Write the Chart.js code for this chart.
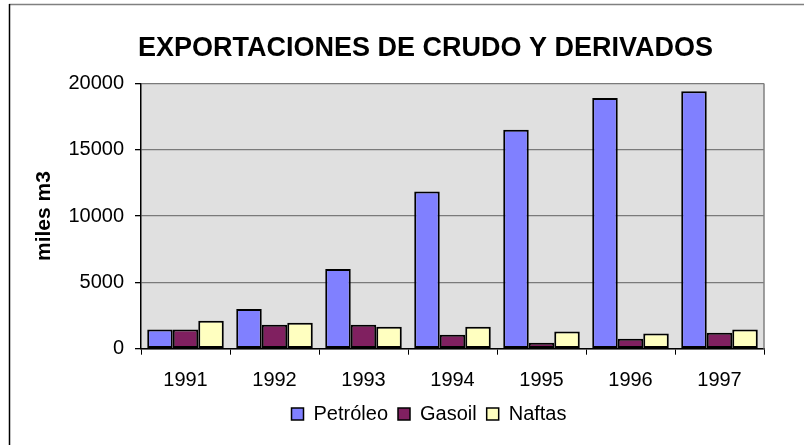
<!DOCTYPE html>
<html>
<head>
<meta charset="utf-8">
<script src="https://cdn.jsdelivr.net/npm/chart.js@4.4.0/dist/chart.umd.min.js"></script>
<style>
  html, body { margin: 0; padding: 0; background: #ffffff; }
  canvas { display: block; }
</style>
</head>
<body>
<canvas id="c" width="804" height="445"></canvas>
<script>
const titleText = 'EXPORTACIONES DE CRUDO Y DERIVADOS';
const yAxisTitle = 'miles m3';
const years = ['1991', '1992', '1993', '1994', '1995', '1996', '1997'];
const seriesNames = ['Petróleo', 'Gasoil', 'Naftas'];
const petroleo = [1450, 3000, 6000, 11850, 16500, 18900, 19400];
const gasoil = [1450, 1800, 1800, 1050, 450, 750, 1200];
const naftas = [2100, 1950, 1650, 1650, 1300, 1150, 1450];
const yTicks = [0, 5000, 10000, 15000, 20000];

const FONT = "'Liberation Sans', Arial, Helvetica, sans-serif";

const framePlugin = {
  id: 'frame',
  afterLayout(chart) {
    if (chart.titleBlock) { chart.titleBlock.left += 43.5; chart.titleBlock.right += 43.5; }
    if (chart.legend) { chart.legend.left += 47; chart.legend.right += 47; }
  },
  beforeDraw(chart) {
    const ctx = chart.ctx;
    const a = chart.chartArea;
    ctx.save();
    ctx.fillStyle = '#ffffff';
    ctx.fillRect(0, 0, chart.width, chart.height);
    ctx.strokeStyle = '#808080';
    ctx.lineWidth = 1.5;
    ctx.beginPath();
    ctx.moveTo(9, 4.5);
    ctx.lineTo(chart.width, 4.5);
    ctx.stroke();
    ctx.strokeStyle = '#000000';
    ctx.lineWidth = 1.5;
    ctx.beginPath();
    ctx.moveTo(9.5, 4);
    ctx.lineTo(9.5, chart.height);
    ctx.stroke();
    ctx.fillStyle = '#e0e0e0';
    ctx.fillRect(a.left, a.top, a.right - a.left, a.bottom - a.top);
    ctx.restore();
  },
  beforeDatasetsDraw(chart) {
    const ctx = chart.ctx;
    const a = chart.chartArea;
    ctx.save();
    ctx.strokeStyle = '#808080';
    ctx.lineWidth = 1.5;
    ctx.beginPath();
    ctx.moveTo(a.right, a.top);
    ctx.lineTo(a.right, a.bottom);
    ctx.stroke();
    ctx.restore();
  }
};

const barStyle = { borderColor: '#000000', borderWidth: 2, borderSkipped: false };

new Chart(document.getElementById('c'), {
  type: 'bar',
  data: {
    labels: years,
    datasets: [
      Object.assign({ label: seriesNames[0], data: petroleo, backgroundColor: '#8080ff' }, barStyle),
      Object.assign({ label: seriesNames[1], data: gasoil, backgroundColor: '#802060' }, barStyle),
      Object.assign({ label: seriesNames[2], data: naftas, backgroundColor: '#ffffc0' }, barStyle)
    ]
  },
  options: {
    responsive: false,
    animation: false,
    devicePixelRatio: 1,
    layout: { padding: { left: 0, right: 40, top: 0, bottom: 11 } },
    datasets: { bar: { categoryPercentage: 0.86, barPercentage: 1.0 } },
    plugins: {
      title: {
        display: true,
        text: titleText,
        color: '#000000',
        font: { family: FONT, size: 27, weight: 'bold', lineHeight: 1.2 },
        padding: { top: 31.9, bottom: 19.1 }
      },
      legend: {
        display: true,
        position: 'bottom',
        labels: {
          color: '#000000',
          font: { family: FONT, size: 20 },
          boxWidth: 12,
          boxHeight: 12,
          padding: 10,
          generateLabels(chart) {
            return chart.data.datasets.map((ds, i) => ({
              text: ds.label,
              fillStyle: ds.backgroundColor,
              strokeStyle: '#000000',
              lineWidth: 1.5,
              fontColor: '#000000',
              hidden: false,
              datasetIndex: i
            }));
          }
        }
      },
      tooltip: { enabled: false }
    },
    scales: {
      x: {
        afterFit(scale) { scale.height = 45.3; },
        grid: { display: true, drawOnChartArea: false, drawTicks: true, tickLength: 6, tickColor: '#000000', offset: true },
        border: { display: true, color: '#000000', width: 1.5 },
        ticks: { color: '#000000', font: { family: FONT, size: 20 }, padding: 14, maxRotation: 0 }
      },
      y: {
        min: 0,
        max: 20000,
        afterFit(scale) { scale.width = 141; },
        afterBuildTicks(scale) { scale.ticks = yTicks.map(v => ({ value: v })); },
        grid: { color: '#7a7a7a', lineWidth: 1.3, drawTicks: true, tickLength: 6, tickColor: '#000000' },
        border: { display: true, color: '#000000', width: 1.5 },
        ticks: { color: '#000000', font: { family: FONT, size: 20 }, padding: 11, callback: (v) => String(v) },
        title: {
          display: true,
          text: yAxisTitle,
          color: '#000000',
          font: { family: FONT, size: 21, weight: 'bold', lineHeight: 1.2 },
          padding: { top: 32, bottom: 0 }
        }
      }
    }
  },
  plugins: [framePlugin]
});
</script>
</body>
</html>
